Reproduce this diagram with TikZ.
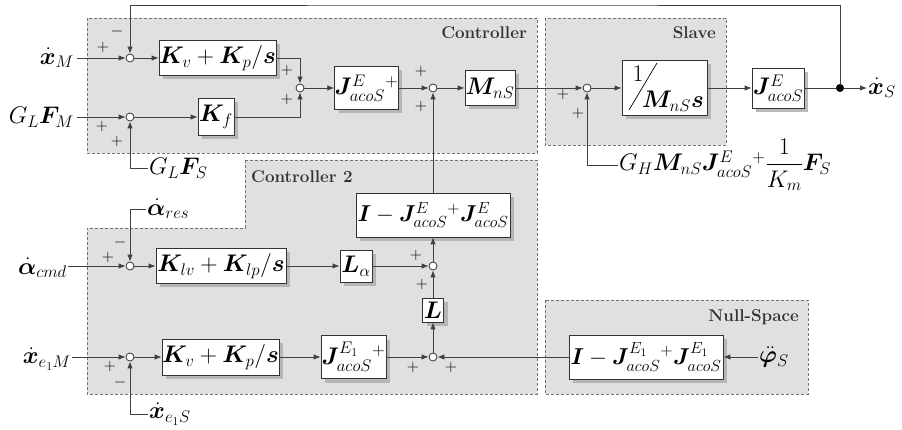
\documentclass[tikz,border=0pt]{standalone}
\usepackage{fix-cm}
\usepackage{amsmath}
\usepackage{bm}
\usetikzlibrary{arrows.meta,shadows}

\tikzset{
  wire/.style={draw=black!75, line width=0.9pt},
  sig/.style={wire, -{Latex[length=7pt,width=5.5pt]}},
  blk/.style={draw=black!80, line width=0.8pt, fill=white, inner sep=0pt,
    font=\fontsize{24}{28}\selectfont,
    drop shadow={shadow xshift=4pt, shadow yshift=-4pt, fill=black!30, opacity=0.9}},
  wideblk/.style={blk, font=\fontsize{23}{27}\selectfont},
  sumc/.style={circle, draw=black!80, line width=0.8pt, fill=white, inner sep=0pt, minimum size=8pt},
  region/.style={fill=black!12, draw=black!55, line width=0.8pt, dash pattern=on 3pt off 2pt},
  ttl/.style={font=\fontsize{17}{20}\selectfont\bfseries, text=black!80, inner sep=0pt},
  sgn/.style={font=\fontsize{16}{18}\selectfont, inner sep=0pt},
  lbl/.style={font=\fontsize{24}{28}\selectfont, inner sep=1pt},
}

\begin{document}
\begin{tikzpicture}[x=1pt,y=-1pt]
\useasboundingbox (0,0) rectangle (902,430);

% shaded sub-system regions
\path[region] (87,18) rectangle (537,153);
\path[region] (545,18) rectangle (726,145);
\path[region] (245,160) -- (537,160) -- (537,394) -- (87,394) -- (87,228) -- (245,228) -- cycle;
\path[region] (545,300) rectangle (808,394);

\node[ttl, anchor=east] (tctl) at (527,33) {Controller};
\node[ttl, anchor=east] (tslv) at (716,33) {Slave};
\node[ttl, anchor=west] (tctl2) at (251,177) {Controller 2};
\node[ttl, anchor=east] (tns) at (799,317) {Null-Space};

% summing junctions
\node[sumc] (s1) at (130,58) {};
\node[sumc] (s2) at (130,117) {};
\node[sumc] (s3) at (300,88) {};
\node[sumc] (s4) at (433,88) {};
\node[sumc] (s5) at (587,88) {};
\node[sumc] (sa) at (130,266) {};
\node[sumc] (s6) at (433,266) {};
\node[sumc] (s7) at (433,357) {};
\node[sumc] (s8) at (130,357) {};
\node[circle, fill=black, inner sep=0pt, minimum size=8pt] (dot) at (840,88) {};

% transfer blocks
\node[blk, minimum width=117pt, minimum height=35pt] (kv1) at (217.5,58) {$\bm K_{v}+\bm K_{p}/\bm s$};
\node[blk, minimum width=36pt, minimum height=37pt] (kf) at (216,117) {$\bm K_{f}$};
\node[blk, minimum width=63pt, minimum height=43pt] (jp1) at (366.5,88) {$\bm J^{E}_{acoS}{}^{+}$};
\node[blk, minimum width=50pt, minimum height=35pt] (mns) at (490,88) {$\bm M_{nS}$};
\node[blk, minimum width=85pt, minimum height=55pt] (slv) at (664.5,88) {};
\node[lbl, inner sep=0pt] (slvnum) at (638,74) {$1$};
\node[lbl, inner sep=0pt] (slvden) at (673,101) {$\bm M_{nS}\bm s$};
\draw[black, line width=0.7pt] (657,63) -- (629,110);
\node[blk, minimum width=52pt, minimum height=40pt] (jout) at (778,88) {$\bm J^{E}_{acoS}$};

\node[wideblk, minimum width=154pt, minimum height=44pt] (ij) at (433,215) {$\bm I-\bm J^{E}_{acoS}{}^{+}\bm J^{E}_{acoS}$};
\node[blk, minimum width=130pt, minimum height=35pt] (kl) at (221,266) {$\bm K_{lv}+\bm K_{lp}/\bm s$};
\node[blk, minimum width=32pt, minimum height=32pt] (la) at (356,266) {$\bm L_{\alpha}$};
\node[blk, minimum width=21pt, minimum height=24pt] (lb) at (433,310) {$\bm L$};
\node[blk, minimum width=65pt, minimum height=43pt] (jp2) at (353.5,357) {$\bm J^{E_1}_{acoS}{}^{+}$};
\node[blk, minimum width=117pt, minimum height=36pt] (kv2) at (220.5,357) {$\bm K_{v}+\bm K_{p}/\bm s$};
\node[wideblk, minimum width=154pt, minimum height=44pt] (ns) at (646,357) {$\bm I-\bm J^{E_1}_{acoS}{}^{+}\bm J^{E_1}_{acoS}$};

% external signals
\node[lbl, anchor=east] (xm) at (75,58) {$\dot{\bm x}_M$};
\coordinate (xmE) at (77,58);
\node[lbl, anchor=east] (glfm) at (75,117) {$G_L\bm F_M$};
\coordinate (glfmE) at (77,117);
\node[lbl, anchor=west] (glfs) at (148,168) {$G_L\bm F_S$};
\node[lbl, anchor=west] (gh) at (618,165) {$G_H\bm M_{nS}\bm J^{E}_{acoS}{}^{+}\dfrac{1}{K_m}\bm F_S$};
\node[lbl, anchor=west] (xs) at (867,88) {$\dot{\bm x}_S$};
\coordinate (top) at (480,5);
\node[lbl, anchor=west] (ares) at (146,209) {$\dot{\bm\alpha}_{res}$};
\node[lbl, anchor=east] (acmd) at (68,268) {$\dot{\bm\alpha}_{cmd}$};
\coordinate (acmdE) at (68,266);
\node[lbl, anchor=east] (xe1m) at (72,359) {$\dot{\bm x}_{e_1M}$};
\coordinate (xe1mE) at (72,357);
\node[lbl, anchor=west] (xe1s) at (148,414) {$\dot{\bm x}_{e_1S}$};
\node[lbl, anchor=west] (phi) at (758,357) {$\ddot{\bm\varphi}_S$};

% signs at the junctions
\node[sgn] (p1a) at (103,48) {$+$};
\node[sgn] (p1b) at (117,32) {$-$};
\node[sgn] (p2a) at (102,127) {$+$};
\node[sgn] (p2b) at (117,142) {$+$};
\node[sgn] (p3a) at (287,71) {$+$};
\node[sgn] (p3b) at (287,100) {$+$};
\node[sgn] (p4a) at (421,72) {$+$};
\node[sgn] (p4b) at (421,107) {$+$};
\node[sgn] (p5a) at (563,95) {$+$};
\node[sgn] (p5b) at (578,114) {$+$};
\node[sgn] (paa) at (108,258) {$+$};
\node[sgn] (pab) at (120,243) {$-$};
\node[sgn] (p6a) at (416,256) {$+$};
\node[sgn] (p6b) at (422,284) {$+$};
\node[sgn] (p7a) at (413,367) {$+$};
\node[sgn] (p7b) at (451,367) {$+$};
\node[sgn] (p8a) at (110,366) {$+$};
\node[sgn] (p8b) at (120,382) {$-$};

% upper loop
\draw[sig] (xmE) -- (s1);
\draw[sig] (s1) -- (kv1);
\draw[sig] (kv1.east) -| (s3.north);
\draw[sig] (glfmE) -- (s2);
\draw[sig] (s2) -- (kf);
\draw[sig] (kf.east) -| (s3.south);
\draw[sig] (glfs.west) -| (s2.south);
\draw[sig] (s3) -- (jp1);
\draw[sig] (jp1) -- (s4);
\draw[sig] (s4) -- (mns);
\draw[sig] (mns) -- (s5);
\draw[sig] (gh.west) -| (s5.south);
\draw[sig] (s5) -- (slv);
\draw[sig] (slv) -- (jout);
\draw[wire] (jout) -- (dot);
\draw[sig] (dot) -- (xs.west);
\draw[sig] (dot) |- (top) -| (s1.north);

% task-space correction path
\draw[sig] (ij.north) -- (s4.south);
\draw[sig] (acmdE) -- (sa);
\draw[sig] (ares.west) -| (sa.north);
\draw[sig] (sa) -- (kl);
\draw[sig] (kl) -- (la);
\draw[sig] (la) -- (s6);
\draw[sig] (s6) -- (ij.south);
\draw[sig] (lb.north) -- (s6.south);
\draw[sig] (s7.north) -- (lb.south);

% redundant-task path
\draw[sig] (xe1mE) -- (s8);
\draw[sig] (xe1s.west) -| (s8.south);
\draw[sig] (s8) -- (kv2);
\draw[sig] (kv2) -- (jp2);
\draw[sig] (jp2) -- (s7);
\draw[sig] (ns.west) -- (s7.east);
\draw[sig] (phi.west) -- (ns.east);
\end{tikzpicture}
\end{document}
